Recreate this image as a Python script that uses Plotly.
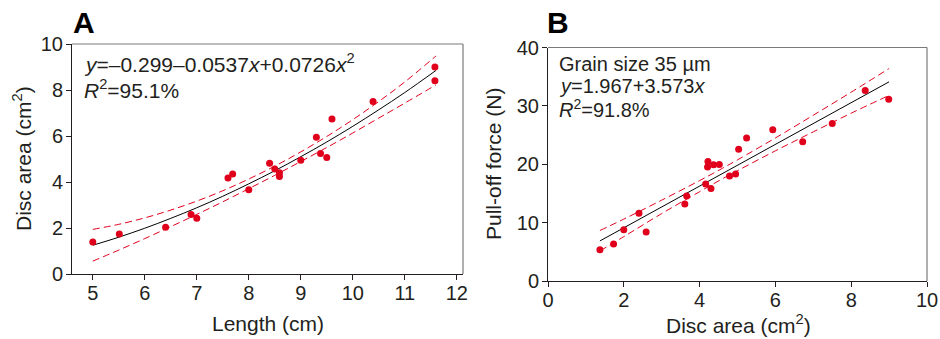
import plotly.graph_objects as go

# ---------------- Panel A data ----------------
a_length = [5.0, 5.51, 6.40, 6.89, 7.0, 7.60, 7.69, 8.0, 8.40, 8.50, 8.59, 8.59,
            9.0, 9.30, 9.38, 9.50, 9.60, 10.39, 11.58, 11.58]
a_area = [1.39, 1.74, 2.03, 2.59, 2.42, 4.17, 4.35, 3.66, 4.81, 4.56, 4.40, 4.24,
          4.95, 5.95, 5.24, 5.06, 6.74, 7.50, 9.0, 8.40]

a_curve_x = [5.0, 5.5, 6.0, 6.5, 7.0, 7.5, 8.0, 8.5, 9.0, 9.5, 10.0, 10.5, 11.0, 11.6]
a_fit = [1.25, 1.60, 1.99, 2.42, 2.88, 3.38, 3.92, 4.49, 5.10, 5.74, 6.42, 7.14, 7.89, 8.85]
a_upper = [1.94, 2.16, 2.44, 2.78, 3.17, 3.62, 4.13, 4.69, 5.31, 5.98, 6.71, 7.50, 8.35, 9.48]
a_lower = [0.56, 1.04, 1.54, 2.06, 2.59, 3.14, 3.71, 4.29, 4.89, 5.50, 6.13, 6.78, 7.43, 8.22]

a_xticks = [5, 6, 7, 8, 9, 10, 11, 12]
a_yticks = [0, 2, 4, 6, 8, 10]

# ---------------- Panel B data ----------------
b_area = [1.37, 1.73, 2.0, 2.40, 2.59, 3.61, 3.66, 4.16, 4.22, 4.21, 4.30, 4.37,
          4.52, 4.79, 4.95, 5.03, 5.24, 5.93, 6.72, 7.50, 8.37, 8.99]
b_force = [5.37, 6.34, 8.8, 11.6, 8.4, 13.2, 14.58, 16.6, 20.46, 19.55, 15.83, 19.9,
           19.97, 18.0, 18.35, 22.57, 24.5, 25.9, 23.84, 26.98, 32.64, 31.15]

b_fit_x = [1.37, 9.0]
b_fit = [6.86, 34.12]
b_band_x = [1.37, 2.0, 3.0, 4.0, 4.6, 5.0, 6.0, 7.0, 8.0, 9.0]
b_upper = [8.65, 10.6, 13.85, 17.2, 19.3, 20.75, 24.5, 28.4, 32.35, 36.4]
b_lower = [5.15, 7.6, 11.55, 15.3, 17.5, 18.9, 22.3, 25.55, 28.75, 31.8]

b_xticks = [0, 2, 4, 6, 8, 10]
b_yticks = [0, 10, 20, 30, 40]

RED = "#E0001B"
TXT = "#231f20"
FONT = "Liberation Sans, Arial, sans-serif"

fig = go.Figure()

dash_line = dict(color=RED, width=1, dash="7px,4px", shape="spline")

# Panel A traces
fig.add_trace(go.Scatter(x=a_curve_x, y=a_upper, mode="lines", line=dash_line, xaxis="x", yaxis="y", hoverinfo="skip"))
fig.add_trace(go.Scatter(x=a_curve_x, y=a_lower, mode="lines", line=dash_line, xaxis="x", yaxis="y", hoverinfo="skip"))
fig.add_trace(go.Scatter(x=a_curve_x, y=a_fit, mode="lines", line=dict(color="black", width=1, shape="spline"), xaxis="x", yaxis="y", hoverinfo="skip"))
fig.add_trace(go.Scatter(x=a_length, y=a_area, mode="markers", marker=dict(color=RED, size=7), xaxis="x", yaxis="y"))

# Panel B traces
fig.add_trace(go.Scatter(x=b_band_x, y=b_upper, mode="lines", line=dash_line, xaxis="x2", yaxis="y2", hoverinfo="skip"))
fig.add_trace(go.Scatter(x=b_band_x, y=b_lower, mode="lines", line=dash_line, xaxis="x2", yaxis="y2", hoverinfo="skip"))
fig.add_trace(go.Scatter(x=b_fit_x, y=b_fit, mode="lines", line=dict(color="black", width=1), xaxis="x2", yaxis="y2", hoverinfo="skip"))
fig.add_trace(go.Scatter(x=b_area, y=b_force, mode="markers", marker=dict(color=RED, size=7), xaxis="x2", yaxis="y2"))

axis_common = dict(showgrid=False, zeroline=False, showline=True, linecolor=TXT, linewidth=1,
                   ticks="outside", ticklen=5, tickcolor=TXT, tickwidth=1,
                   tickfont=dict(family=FONT, size=20, color=TXT))

fig.update_layout(
    width=940, height=339,
    margin=dict(l=0, r=0, t=0, b=0, autoexpand=False),
    paper_bgcolor="white", plot_bgcolor="white",
    showlegend=False,
    xaxis=dict(domain=[72/940, 463/940], range=[4.6, 12.12], tickvals=a_xticks, anchor="y",
               ticklabelstandoff=-4, automargin=False, **axis_common),
    yaxis=dict(domain=[1-274/339, 1-44/339], range=[0, 10], tickvals=a_yticks, anchor="x",
               ticklabelstandoff=-1, automargin=False, **axis_common),
    xaxis2=dict(domain=[548/940, 927/940], range=[0, 10], tickvals=b_xticks, anchor="y2",
                ticklabelstandoff=-4, automargin=False, **axis_common),
    yaxis2=dict(domain=[1-281/339, 1-47.5/339], range=[0, 40], tickvals=b_yticks, anchor="x2",
                ticklabelstandoff=-1, automargin=False, **axis_common),
)

# top/right frame lines (gray)
for xr, yr in [("x domain", "y domain"), ("x2 domain", "y2 domain")]:
    fig.add_shape(type="line", xref=xr, yref=yr, x0=0, x1=1, y0=1, y1=1, line=dict(color="#7a7a7a", width=1.2))
    fig.add_shape(type="line", xref=xr, yref=yr, x0=1, x1=1, y0=0, y1=1, line=dict(color="#7a7a7a", width=1.2))

def ann(text, x, y, size=21, xanchor="left", bold=False, angle=0):
    fig.add_annotation(text=("<b>%s</b>" % text) if bold else text,
                       x=x/940, y=1-y/339, xref="paper", yref="paper",
                       xanchor=xanchor, yanchor="middle", showarrow=False, textangle=angle,
                       font=dict(family=FONT, size=size, color=TXT if not bold else "black"))

# panel labels
ann("A", 71, 23, size=30, bold=True)
ann("B", 545, 23, size=30, bold=True)

# panel A texts
ann("<i>y</i>=–0.299–0.0537<i>x</i>+0.0726<i>x</i><sup>2</sup>", 82, 63)
ann("<i>R</i><sup>2</sup>=95.1%", 82, 89)
ann("Length (cm)", 268, 323, xanchor="center")
ann("Disc area (cm<sup>2</sup>)", 22, 159, xanchor="center", angle=-90)

# panel B texts
ann("Grain size 35 µm", 557, 64, size=20)
ann("<i>y</i>=1.967+3.573<i>x</i>", 557, 86, size=20)
ann("<i>R</i><sup>2</sup>=91.8%", 557, 108, size=20)
ann("Disc area (cm<sup>2</sup>)", 738, 324, xanchor="center")
ann("Pull-off force (N)", 494, 164, xanchor="center", angle=-90)

fig.write_html("out.html", config={"displayModeBar": False},
               post_script="document.body.style.margin='0';document.body.style.overflow='hidden';")
